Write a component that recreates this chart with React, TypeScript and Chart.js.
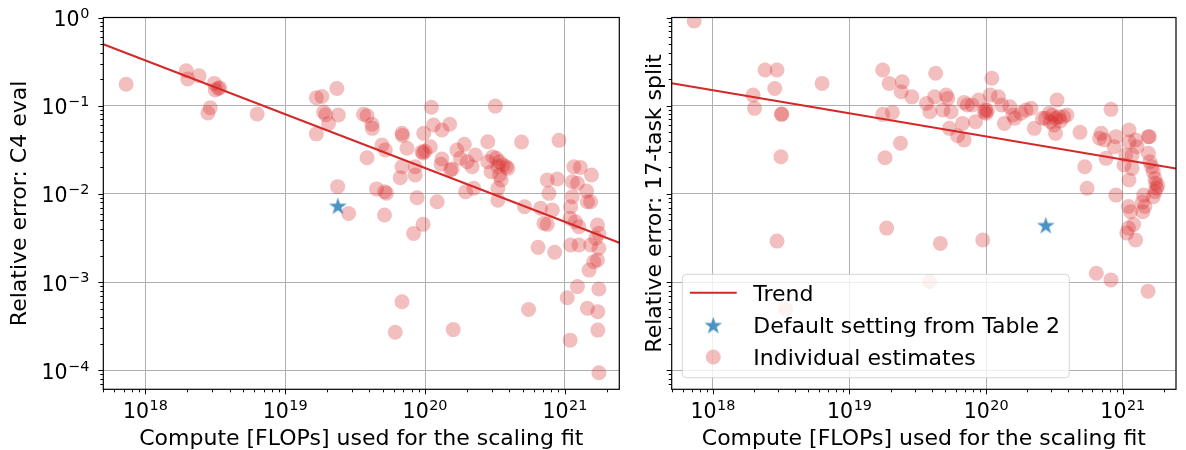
import React, { useEffect, useRef } from "react";
import { Chart, registerables } from "chart.js";

Chart.register(...registerables);

// ---------------- data ----------------
const xMin = 5e17;
const xMax = 2.45e21;
const yMin = 6.1e-5;
const yMax = 1;

const xTickValues = [1e18, 1e19, 1e20, 1e21];
const xTickLabels = ["10^18", "10^19", "10^20", "10^21"];
const yTickValues = [1, 1e-1, 1e-2, 1e-3, 1e-4];
const yTickLabels = ["10^0", "10^\u22121", "10^\u22122", "10^\u22123", "10^\u22124"];

const seriesLabels = ["Trend", "Default setting from Table 2", "Individual estimates"];

// Left panel: C4 eval
const c4X = [
  7.28e17, 1.96e18, 2.01e18, 2.42e18, 3.11e18, 3.16e18, 3.32e18, 3.4e18, 2.91e18, 2.8e18, 6.3e18,
  2.34e19, 1.67e19, 1.83e19, 1.88e19, 1.95e19, 2.4e19, 2.04e19, 1.67e19,
  3.63e19, 3.85e19, 4.17e19, 4.2e19, 3.85e19, 4.92e19, 5.2e19,
  6.84e19, 6.9e19, 7.43e19, 6.84e19, 6.65e19, 8.5e19, 8.5e19,
  9.78e19, 9.5e19, 9.7e19, 1.0e20, 1.09e20, 1.11e20, 1.15e20, 1.32e20, 1.5e20, 1.32e20, 1.3e20,
  1.52e20, 1.56e20, 1.69e20, 1.91e20, 1.79e20, 2.0e20, 2.17e20, 2.29e20, 2.81e20, 2.23e20, 1.95e20,
  8.77e19, 1.22e20, 9.68e19, 8.28e19, 6.84e19, 6.12e19, 1.59e20,
  4.5e19, 5.14e19, 5.3e19, 5.13e19, 2.37e19, 2.84e19,
  3.18e20, 4.9e20, 9.08e20,
  2.81e20, 3.05e20, 3.23e20, 3.41e20, 3.6e20, 3.8e20, 3.91e20, 3.32e20, 2.97e20, 3.41e20, 3.5e20, 3.32e20, 3.32e20,
  5.15e20, 6.43e20, 8.45e20, 5.5e20,
  7.48e20, 8.83e20, 7.69e20, 8.13e20, 6.7e20, 7.08e20, 7.48e20,
  1.16e21, 1.29e21, 1.55e21, 1.13e21, 1.23e21, 1.43e21, 1.13e21, 1.1e21, 1.45e21, 1.53e21,
  1.09e21, 1.19e21, 1.26e21, 1.71e21, 1.75e21, 1.66e21, 1.53e21, 1.75e21, 1.71e21, 1.61e21,
  1.49e21, 1.1e21, 1.26e21, 1.23e21, 1.04e21, 1.75e21, 1.45e21, 1.72e21, 1.72e21, 1.09e21, 1.75e21,
];
const c4Y = [
  0.175, 0.249, 0.201, 0.219, 0.179, 0.151, 0.157, 0.16, 0.095, 0.0827, 0.0805,
  0.157, 0.123, 0.127, 0.085, 0.079, 0.0785, 0.063, 0.048,
  0.08, 0.077, 0.0616, 0.0554, 0.0257, 0.0358, 0.0315,
  0.0486, 0.046, 0.0329, 0.0203, 0.0153, 0.0203, 0.0164,
  0.0486, 0.03, 0.0292, 0.0305, 0.0343, 0.096, 0.0604, 0.053, 0.0616, 0.0249, 0.0217,
  0.0187, 0.0192, 0.0315, 0.0365, 0.0253, 0.0232, 0.0203, 0.0276, 0.039, 0.0116, 0.0106,
  0.00906, 0.00816, 0.00452, 0.00357, 0.0006, 0.00027, 0.00029,
  0.0114, 0.0106, 0.0102, 0.00577, 0.0121, 0.006,
  0.099, 0.0388, 0.0405,
  0.0232, 0.0264, 0.0253, 0.0232, 0.0213, 0.0203, 0.0195, 0.0203, 0.0179, 0.0164, 0.0144, 0.0116, 0.0085,
  0.00716, 0.00248, 0.00218, 0.00049,
  0.0144, 0.01475, 0.01016, 0.00657, 0.00687, 0.00464, 0.00452,
  0.0203, 0.02, 0.0164, 0.01375, 0.0132, 0.0108, 0.0093, 0.00716, 0.00816, 0.00816,
  0.00529, 0.00484, 0.00425, 0.00444, 0.00357, 0.00314, 0.00264, 0.00242, 0.00178, 0.0017,
  0.00137, 0.00264, 0.00264, 0.00089, 0.000665, 0.000835, 0.000505, 0.000462, 0.000286, 0.00022, 9.4e-5,
];
const c4TrendX = [5e17, 2.45e21];
const c4TrendY = [0.497, 0.0028];
const c4DefaultX = [2.38e19];
const c4DefaultY = [0.00735];

// Right panel: 17-task split
const taskX = [
  7.3e17, 2.41e18, 2.95e18, 2.84e18, 1.97e18, 2.02e18, 3.17e18, 3.2e18, 3.15e18, 6.3e18, 2.95e18, 3.41e18,
  1.75e19, 1.95e19, 2.43e19, 2.39e19, 2.86e19, 4.27e19, 1.75e19, 2.06e19, 2.36e19, 1.82e19, 1.87e19, 4.62e19, 9.44e19, 3.87e19,
  3.66e19, 3.87e19, 4.2e19, 5.1e19, 5.24e19, 4.82e19, 5.54e19, 6.9e19, 7.28e19, 5.38e19, 6.18e19, 6.9e19, 6.71e19,
  7.9e19, 8.83e19, 8.36e19, 9.7e19, 9.9e19, 1.0e20, 1.02e20, 1.1e20, 1.07e20, 1.23e20, 1.3e20, 1.49e20, 1.36e20,
  1.57e20, 1.62e20, 1.8e20, 1.96e20, 2.13e20, 2.25e20, 2.58e20,
  3.3e20, 2.89e20, 3.05e20, 3.22e20, 3.4e20, 3.69e20, 3.49e20, 3.13e20, 3.22e20, 2.96e20, 2.72e20, 3.9e20,
  4.86e20, 8.19e20, 6.95e20, 6.76e20, 7.33e20, 8.9e20, 8.65e20, 7.54e20, 5.27e20, 5.48e20, 8.9e20,
  1.11e21, 1.24e21, 1.11e21, 1.27e21, 1.54e21, 1.56e21, 1.54e21, 1.05e21, 1.17e21, 1.02e21, 1.17e21,
  1.58e21, 1.63e21, 1.67e21, 1.72e21, 1.74e21, 1.77e21, 1.72e21, 1.67e21, 1.8e21,
  1.11e21, 1.42e21, 1.39e21, 1.45e21, 1.4e21, 1.1e21, 1.14e21, 1.1e21, 1.07e21, 1.2e21, 1.24e21,
  6.4e20, 8.19e20, 1.53e21,
];
const taskY = [
  0.912, 0.254, 0.254, 0.157, 0.132, 0.0933, 0.0798, 0.0805, 0.0264, 0.179, 0.00292, 0.000495,
  0.254, 0.179, 0.187, 0.144, 0.126, 0.233, 0.0798, 0.084, 0.0375, 0.0257, 0.0041, 0.00275, 0.003, 0.00101,
  0.106, 0.0855, 0.126, 0.132, 0.121, 0.0894, 0.0855, 0.109, 0.102, 0.0554, 0.0457, 0.0408, 0.063,
  0.102, 0.116, 0.0659, 0.085, 0.09, 0.082, 0.088, 0.205, 0.132, 0.126, 0.102, 0.0975, 0.063,
  0.0785, 0.072, 0.082, 0.0894, 0.0933, 0.0554, 0.072,
  0.116, 0.082, 0.0785, 0.072, 0.075, 0.075, 0.067, 0.0604, 0.0486, 0.0659, 0.072, 0.0785,
  0.0499, 0.091, 0.0486, 0.0427, 0.0408, 0.0446, 0.0343, 0.0253, 0.0203, 0.0116, 0.0097,
  0.053, 0.0408, 0.039, 0.0343, 0.0446, 0.0446, 0.0289, 0.0276, 0.0276, 0.0213, 0.0195,
  0.0232, 0.0203, 0.0179, 0.015, 0.0132, 0.0116, 0.0106, 0.0093, 0.0125,
  0.0144, 0.0097, 0.0081, 0.0072, 0.0063, 0.0072, 0.0063, 0.0041, 0.0036, 0.0045, 0.003,
  0.00126, 0.00106, 0.00079,
];
const taskTrendX = [5e17, 2.45e21];
const taskTrendY = [0.18, 0.0194];
const taskDefaultX = [2.73e20];
const taskDefaultY = [0.00444];

// ---------------- helpers ----------------
const RED = "#d62728";
const POINT_FILL = "rgba(214,39,40,0.3)";
const STAR_FILL = "rgba(31,119,180,0.8)";
const FONT = "'DejaVu Sans', 'Liberation Sans', sans-serif";
const TICK_SIZE = 20.5;
const SUP_SIZE = 14.4;

function zip(xs: number[], ys: number[]) {
  return xs.map((x, i) => ({ x, y: ys[i] }));
}

function logTicks(min: number, max: number) {
  const out: { value: number; major: boolean }[] = [];
  const e0 = Math.floor(Math.log10(min));
  const e1 = Math.ceil(Math.log10(max));
  for (let e = e0; e <= e1; e++) {
    for (let m = 1; m < 10; m++) {
      const v = m * Math.pow(10, e);
      if (v >= min * 0.999999 && v <= max * 1.000001) out.push({ value: v, major: m === 1 });
    }
  }
  return out;
}

function labelFor(values: number[], labels: string[], v: number) {
  const i = values.findIndex((t) => Math.abs(v / t - 1) < 1e-6);
  return i >= 0 ? labels[i] : "";
}

function makeStar(r: number, color: string) {
  const c = document.createElement("canvas");
  const size = Math.ceil(r * 2 + 2);
  c.width = size;
  c.height = size;
  const g = c.getContext("2d")!;
  g.fillStyle = color;
  g.beginPath();
  const cx = size / 2;
  const cy = size / 2 + r * 0.1;
  for (let i = 0; i < 10; i++) {
    const ang = -Math.PI / 2 + (i * Math.PI) / 5;
    const rr = i % 2 === 0 ? r : r * 0.382;
    g.lineTo(cx + rr * Math.cos(ang), cy + rr * Math.sin(ang));
  }
  g.closePath();
  g.fill();
  return c;
}

// draws "base^exp" mathtext-like label; (x, baseline) refers to the anchor given by align
function drawPowerLabel(ctx: CanvasRenderingContext2D, label: string, x: number, baseline: number, align: "center" | "right") {
  const [base, exp] = label.split("^");
  ctx.font = `${TICK_SIZE}px ${FONT}`;
  const wb = ctx.measureText(base).width;
  ctx.font = `${SUP_SIZE}px ${FONT}`;
  const we = ctx.measureText(exp || "").width;
  const total = wb + 0.5 + we;
  const x0 = align === "center" ? x - total / 2 : x - total;
  ctx.textAlign = "left";
  ctx.textBaseline = "alphabetic";
  ctx.font = `${TICK_SIZE}px ${FONT}`;
  ctx.fillText(base, x0, baseline);
  if (exp) {
    ctx.font = `${SUP_SIZE}px ${FONT}`;
    ctx.fillText(exp, x0 + wb + 0.5, baseline - 8.3);
  }
}

const axesPlugin = {
  id: "mplAxes",
  afterDraw(chart: any, _args: any, opts: any) {
    const { ctx, chartArea: a } = chart;
    const xs = chart.scales.x;
    const ys = chart.scales.y;
    ctx.save();
    ctx.strokeStyle = "#000";
    ctx.lineWidth = 1;
    for (const t of xs.ticks) {
      const p = Math.round(xs.getPixelForValue(t.value)) + 0.5;
      const len = t.major ? 5 : 3;
      ctx.beginPath();
      ctx.moveTo(p, a.bottom);
      ctx.lineTo(p, a.bottom + len);
      ctx.stroke();
    }
    for (const t of ys.ticks) {
      const p = Math.round(ys.getPixelForValue(t.value)) + 0.5;
      const len = t.major ? 5 : 3;
      ctx.beginPath();
      ctx.moveTo(a.left, p);
      ctx.lineTo(a.left - len, p);
      ctx.stroke();
    }
    ctx.lineWidth = 1.2;
    ctx.strokeRect(a.left, a.top, a.right - a.left, a.bottom - a.top);

    // tick labels
    ctx.fillStyle = "#000";
    for (const t of xs.ticks) {
      const lab = labelFor(xTickValues, xTickLabels, t.value);
      if (!lab) continue;
      drawPowerLabel(ctx, lab, xs.getPixelForValue(t.value), a.bottom + 29, "center");
    }
    if (opts && opts.yLabels) {
      for (const t of ys.ticks) {
        const lab = labelFor(yTickValues, yTickLabels, t.value);
        if (!lab) continue;
        drawPowerLabel(ctx, lab, a.left - 14, ys.getPixelForValue(t.value) + 8.5, "right");
      }
    }
    ctx.restore();
  },
};

const legendPlugin = {
  id: "mplLegend",
  afterDraw(chart: any, _args: any, opts: any) {
    if (!opts || !opts.show) return;
    const { ctx, chartArea: a } = chart;
    const star = opts.star as HTMLCanvasElement;
    const w = 387;
    const h = 103.4;
    const x0 = a.left + 10.6;
    const y0 = a.bottom - 11.6 - h;
    const r = 4;
    ctx.save();
    ctx.beginPath();
    ctx.moveTo(x0 + r, y0);
    ctx.lineTo(x0 + w - r, y0);
    ctx.arcTo(x0 + w, y0, x0 + w, y0 + r, r);
    ctx.lineTo(x0 + w, y0 + h - r);
    ctx.arcTo(x0 + w, y0 + h, x0 + w - r, y0 + h, r);
    ctx.lineTo(x0 + r, y0 + h);
    ctx.arcTo(x0, y0 + h, x0, y0 + h - r, r);
    ctx.lineTo(x0, y0 + r);
    ctx.arcTo(x0, y0, x0 + r, y0, r);
    ctx.closePath();
    ctx.fillStyle = "rgba(255,255,255,0.8)";
    ctx.fill();
    ctx.strokeStyle = "rgba(204,204,204,0.8)";
    ctx.lineWidth = 1;
    ctx.stroke();

    const labels = chart.data.datasets.map((d: any) => d.label);
    const rowY = [y0 + 18.4, y0 + 50.7, y0 + 82.7];
    const handleX = x0 + 31;
    ctx.strokeStyle = RED;
    ctx.lineWidth = 2;
    ctx.beginPath();
    ctx.moveTo(x0 + 7.7, rowY[0]);
    ctx.lineTo(x0 + 54.4, rowY[0]);
    ctx.stroke();
    ctx.drawImage(star, handleX - star.width / 2, rowY[1] - star.height / 2);
    ctx.fillStyle = POINT_FILL;
    ctx.beginPath();
    ctx.arc(handleX, rowY[2], 7.5, 0, Math.PI * 2);
    ctx.fill();

    ctx.fillStyle = "#000";
    ctx.font = `22px ${FONT}`;
    ctx.textAlign = "left";
    ctx.textBaseline = "alphabetic";
    for (let i = 0; i < 3; i++) {
      ctx.fillText(labels[i], x0 + 71, rowY[i] + 8);
    }
    ctx.restore();
  },
};

type PanelProps = {
  width: number;
  yTitle: string;
  showYLabels: boolean;
  yAxisWidth: number;
  yTitlePad: number;
  rightPad: number;
  px: number[];
  py: number[];
  tx: number[];
  ty: number[];
  dx: number[];
  dy: number[];
  legend: boolean;
};

function Panel(p: PanelProps) {
  const ref = useRef<HTMLCanvasElement>(null);
  useEffect(() => {
    const star = makeStar(9.3, STAR_FILL);
    const chart = new Chart(ref.current!, {
      type: "scatter",
      data: {
        datasets: [
          {
            label: seriesLabels[0],
            data: zip(p.tx, p.ty),
            showLine: true,
            borderColor: RED,
            borderWidth: 2,
            pointRadius: 0,
            order: 2,
            clip: 0,
          } as any,
          {
            label: seriesLabels[1],
            data: zip(p.dx, p.dy),
            pointStyle: star,
            pointRadius: 9,
            order: 1,
            clip: 0,
          } as any,
          {
            label: seriesLabels[2],
            data: zip(p.px, p.py),
            backgroundColor: POINT_FILL,
            borderWidth: 0,
            pointRadius: 7.5,
            order: 3,
            clip: 0,
          } as any,
        ],
      },
      options: {
        animation: false,
        responsive: false,
        events: [],
        layout: { padding: { left: 0, top: 17.5, right: p.rightPad, bottom: 0 } },
        plugins: {
          legend: { display: false },
          tooltip: { enabled: false },
          mplLegend: { show: p.legend, star },
          mplAxes: { yLabels: p.showYLabels },
        } as any,
        scales: {
          x: {
            type: "logarithmic",
            min: xMin,
            max: xMax,
            afterBuildTicks: (s: any) => {
              s.ticks = logTicks(xMin, xMax);
            },
            afterFit: (s: any) => {
              s.height = 60.7;
            },
            border: { display: false },
            grid: {
              drawTicks: false,
              lineWidth: 1,
              color: (c: any) => (c.tick && c.tick.major ? "#b0b0b0" : "rgba(0,0,0,0)"),
            },
            ticks: {
              display: false,
              autoSkip: false,
              callback: (v: any) => labelFor(xTickValues, xTickLabels, Number(v)),
            },
            title: {
              display: true,
              text: "Compute [FLOPs] used for the scaling fit",
              color: "#000",
              font: { family: FONT, size: 22, lineHeight: 1.0 },
              padding: { top: 0, bottom: 0 },
            },
          },
          y: {
            type: "logarithmic",
            min: yMin,
            max: yMax,
            afterBuildTicks: (s: any) => {
              s.ticks = logTicks(yMin, yMax);
            },
            afterFit: (s: any) => {
              s.width = p.yAxisWidth;
            },
            border: { display: false },
            grid: {
              drawTicks: false,
              lineWidth: 1,
              color: (c: any) => (c.tick && c.tick.major ? "#b0b0b0" : "rgba(0,0,0,0)"),
            },
            ticks: {
              display: false,
              autoSkip: false,
              callback: (v: any) => labelFor(yTickValues, yTickLabels, Number(v)),
            },
            title: {
              display: true,
              text: p.yTitle,
              color: "#000",
              font: { family: FONT, size: 22, lineHeight: 1.0 },
              padding: { top: p.yTitlePad, bottom: 0 },
            },
          },
        },
      } as any,
      plugins: [axesPlugin, legendPlugin] as any,
    });
    return () => chart.destroy();
  }, []);
  return <canvas ref={ref} width={p.width} height={450} style={{ display: "block", width: p.width, height: 450 }} />;
}

export default function App() {
  return (
    <div style={{ position: "absolute", left: 0, top: 0, width: 1186, height: 450, background: "#fff", display: "flex" }}>
      <Panel
        width={640}
        yTitle="Relative error: C4 eval"
        showYLabels={true}
        yAxisWidth={103.3}
        yTitlePad={9}
        rightPad={20.7}
        px={c4X}
        py={c4Y}
        tx={c4TrendX}
        ty={c4TrendY}
        dx={c4DefaultX}
        dy={c4DefaultY}
        legend={false}
      />
      <Panel
        width={546}
        yTitle="Relative error: 17-task split"
        showYLabels={false}
        yAxisWidth={31.7}
        yTitlePad={4}
        rightPad={1}
        px={taskX}
        py={taskY}
        tx={taskTrendX}
        ty={taskTrendY}
        dx={taskDefaultX}
        dy={taskDefaultY}
        legend={true}
      />
    </div>
  );
}
